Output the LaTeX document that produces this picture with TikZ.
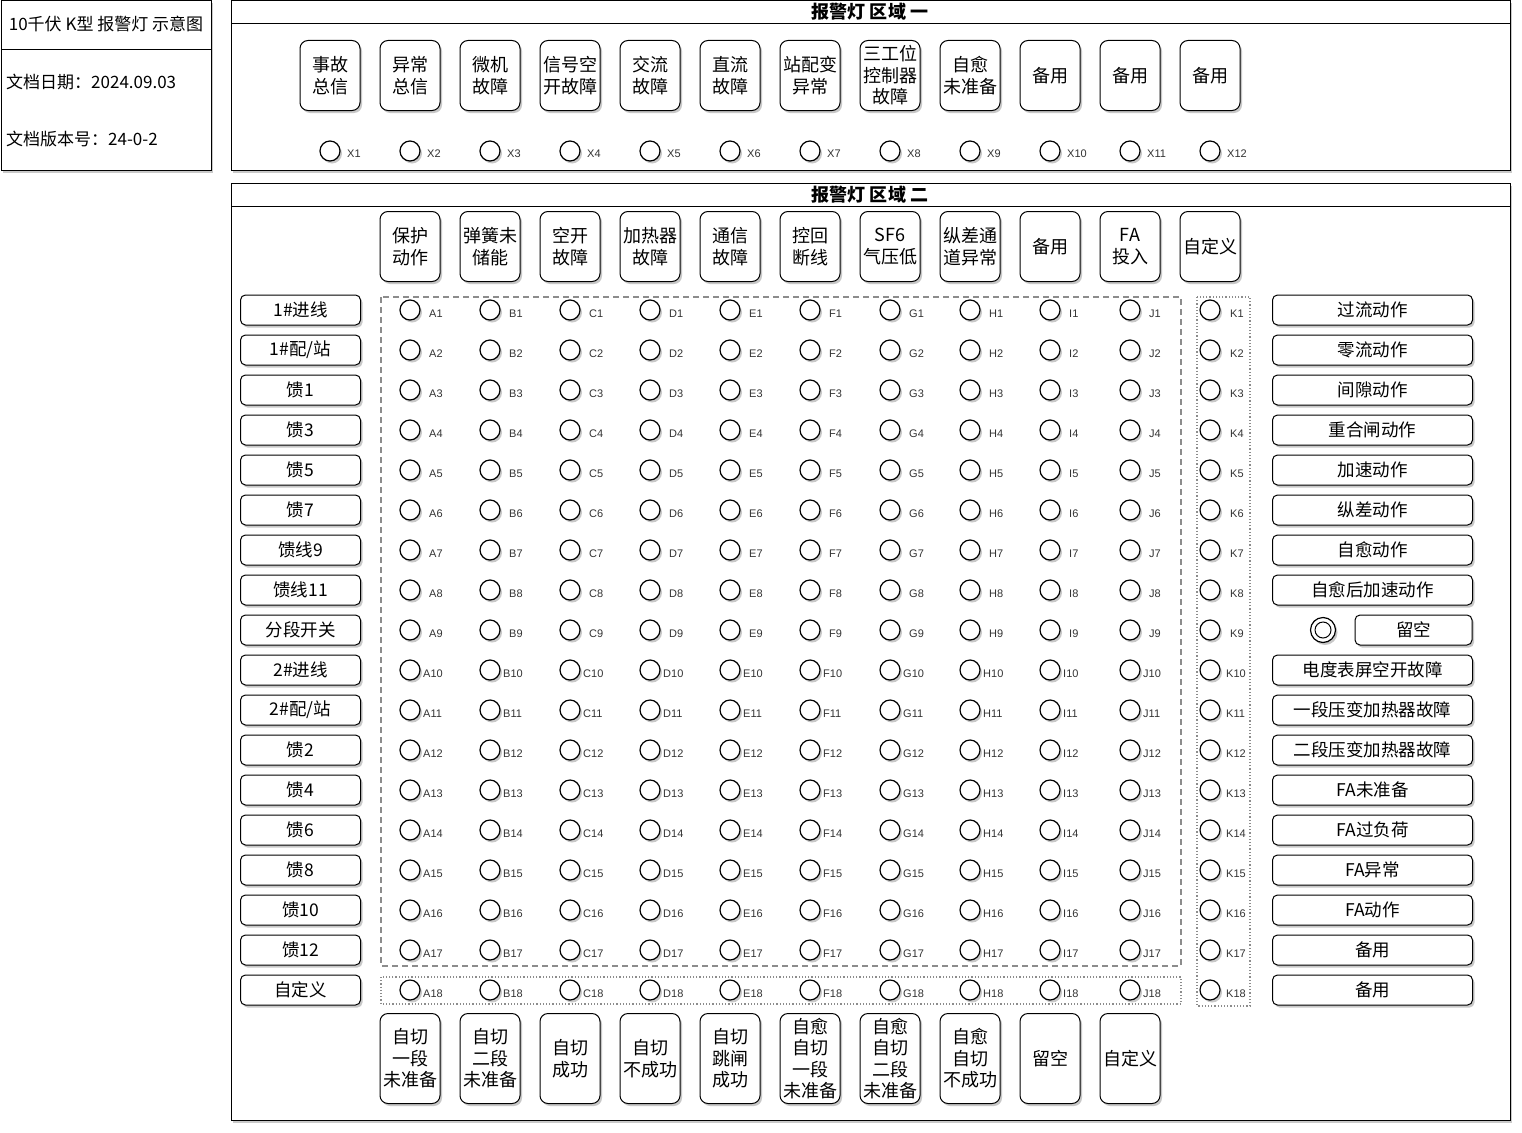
\documentclass[tikz,border=0pt]{standalone}
\usepackage{fontspec}
\setmainfont{Noto Sans CJK SC}
\newfontfamily\latf{Liberation Sans}
\usetikzlibrary{shadows}
\begin{document}
\begin{tikzpicture}[x=1pt,y=-1pt,
  shad/.style={drop shadow={shadow xshift=2pt,shadow yshift=-2.5pt,opacity=0.3,fill=black!70}},
  frame/.style={draw=black,line width=1pt,fill=white,shad},
  btn/.style={draw=black,line width=1pt,fill=white,rounded corners=8pt,shad,align=center,inner sep=0pt,
    minimum width=60pt,minimum height=70pt,font=\fontsize{18}{21.5}\selectfont},
  tallbtn/.style={btn,minimum height=90pt},
  sidebtn/.style={draw=black,line width=1pt,fill=white,rounded corners=5pt,shad,inner sep=0pt,
    minimum height=30pt,font=\fontsize{17.5}{20}\selectfont},
  lamp/.style={circle,draw=black,line width=1.2pt,fill=white,shad,minimum size=20pt,inner sep=0pt},
  lbl/.style={anchor=west,inner sep=0pt,font=\latf\fontsize{11}{12}\selectfont,text=black!80},
  head/.style={font=\bfseries\fontsize{18}{20}\selectfont,inner sep=0pt},
  info/.style={font=\fontsize{17}{20}\selectfont,inner sep=0pt}
]
\useasboundingbox (0,0) rectangle (1522,1132);
% info box
\draw[frame] (1,1) rectangle (211,170);
\draw[line width=1pt] (1,50) -- (211,50);
\node[info] (title) at (106,24) {10千伏 K型 报警灯 示意图};
\node[info,anchor=west] (date) at (6,82) {文档日期：2024.09.03};
\node[info,anchor=west] (ver) at (6,139) {文档版本号：24-0-2};
% area one
\draw[frame] (231,1) rectangle (1510,170);
\draw[line width=1pt] (231,24) -- (1510,24);
\node[head] (h1) at (870,12) {报警灯 区域 一};
\foreach \t [count=\i] in {{事故\\总信},{异常\\总信},{微机\\故障},{信号空\\开故障},{交流\\故障},{直流\\故障},{站配变\\异常},{三工位\\控制器\\故障},{自愈\\未准备},{备用},{备用},{备用}}{
  \node[btn] (t\i) at ({250+80*\i},75.5) {\t};
  \node[lamp] (x\i) at ({250+80*\i},151) {};
  \node[lbl] (xl\i) at ({267+80*\i},154) {X\i};
}
% area two
\draw[frame] (231,183) rectangle (1510,1120);
\draw[line width=1pt] (231,206) -- (1510,206);
\node[head] (h2) at (870,194.5) {报警灯 区域 二};
\foreach \t [count=\i] in {{保护\\动作},{弹簧未\\储能},{空开\\故障},{加热器\\故障},{通信\\故障},{控回\\断线},{SF6\\气压低},{纵差通\\道异常},{备用},{FA\\投入},{自定义}}{
  \node[btn] (u\i) at ({330+80*\i},246.5) {\t};
}
% group frames
\draw[black!45,line width=1.2pt,dash pattern=on 6pt off 4pt] (381,297) rectangle (1181,966);
\draw[black!45,line width=1.2pt,dotted] (381,977) rectangle (1181,1004);
\draw[black!45,line width=1.2pt,dotted] (1197,297) rectangle (1250,1006);
% grid
\foreach \c [count=\j] in {A,B,C,D,E,F,G,H,I,J}{
  \foreach \r in {1,...,18}{
    \pgfmathsetmacro\off{\r<10 ? 19 : 13}
    \node[lamp] (c\c\r) at ({330+80*\j},{270+40*\r}) {};
    \node[lbl] (l\c\r) at ({330+80*\j+\off},{273.5+40*\r}) {\c\r};
  }
}
\foreach \r in {1,...,18}{
  \pgfmathsetmacro\off{\r<10 ? 20 : 16}
  \node[lamp] (cK\r) at (1210,{270+40*\r}) {};
  \node[lbl] (lK\r) at ({1210+\off},{273.5+40*\r}) {K\r};
}
% left buttons
\foreach \t [count=\r] in {1\#进线,1\#配/站,馈1,馈3,馈5,馈7,馈线9,馈线11,分段开关,2\#进线,2\#配/站,馈2,馈4,馈6,馈8,馈10,馈12,自定义}{
  \node[sidebtn,minimum width=120pt] (L\r) at (300.5,{270+40*\r}) {\t};
}
% right buttons
\foreach \t [count=\r] in {过流动作,零流动作,间隙动作,重合闸动作,加速动作,纵差动作,自愈动作,自愈后加速动作,留空,电度表屏空开故障,一段压变加热器故障,二段压变加热器故障,FA未准备,FA过负荷,FA异常,FA动作,备用,备用}{
  \ifnum\r=9
    \node[sidebtn,minimum width=117pt] (R\r) at (1413.5,{270+40*\r}) {\t};
  \else
    \node[sidebtn,minimum width=200pt] (R\r) at (1372.5,{270+40*\r}) {\t};
  \fi
}
\node[lamp,minimum size=25pt] (dbl) at (1323,630) {};
\node[circle,draw=black,line width=1pt,minimum size=16pt,inner sep=0pt] (dbli) at (dbl.center) {};
% bottom buttons
\foreach \t [count=\i] in {{自切\\一段\\未准备},{自切\\二段\\未准备},{自切\\成功},{自切\\不成功},{自切\\跳闸\\成功},{自愈\\自切\\一段\\未准备},{自愈\\自切\\二段\\未准备},{自愈\\自切\\不成功},{留空},{自定义}}{
  \node[tallbtn] (b\i) at ({330+80*\i},1058.5) {\t};
}
\end{tikzpicture}
\end{document}
